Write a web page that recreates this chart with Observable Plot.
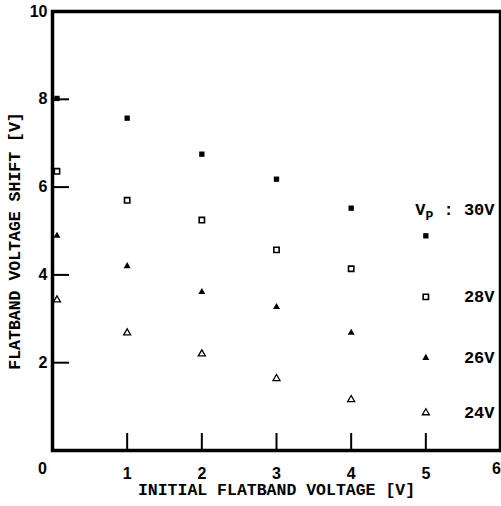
<!DOCTYPE html>
<html>
<head>
<meta charset="utf-8">
<script src="https://cdn.jsdelivr.net/npm/d3@7"></script>
<script src="https://cdn.jsdelivr.net/npm/@observablehq/plot@0.6"></script>
<style>
  html, body { margin: 0; padding: 0; background: #fff; }
</style>
</head>
<body>
<div id="chart"></div>
<script>
// Initial flatband voltage (x) for each measured column
const initialVfb = [0.06, 1, 2, 3, 4, 5];
// Flatband voltage shift [V] for each programming voltage Vp
const shift30 = [8.02, 7.57, 6.75, 6.18, 5.52, 4.89];
const shift28 = [6.36, 5.70, 5.25, 4.57, 4.14, 3.50];
const shift26 = [4.89, 4.20, 3.61, 3.27, 2.68, 2.11];
const shift24 = [3.43, 2.68, 2.20, 1.64, 1.16, 0.86];
const seriesLabels = ["Vp : 30V", "28V", "26V", "24V"];
const xTicks = [0, 1, 2, 3, 4, 5, 6];
const yTicks = [2, 4, 6, 8, 10];
const xTitle = "INITIAL FLATBAND VOLTAGE [V]";
const yTitle = "FLATBAND VOLTAGE SHIFT [V]";

const mk = (ys) => ys.map((y, i) => ({x: initialVfb[i], y}));
const s30 = mk(shift30), s28 = mk(shift28), s26 = mk(shift26), s24 = mk(shift24);
const lastPts = [s30, s28, s26, s24].map((s, i) => ({...s[s.length - 1], label: seriesLabels[i]}));

const mono = "'Liberation Mono', 'Courier New', monospace";

const chart = Plot.plot({
  width: 501,
  height: 506,
  marginLeft: 52,
  marginRight: 1,
  marginTop: 11,
  marginBottom: 56,
  style: {fontFamily: "'Liberation Sans', Arial, sans-serif", fontSize: "16px", fontWeight: "bold", color: "#000", background: "#fff"},
  x: {domain: [0, 6]},
  y: {domain: [0, 10]},
  marks: [
    Plot.frame({stroke: "#000", strokeWidth: 3.5}),
    Plot.tickY(yTicks.filter(d => d < 10), {y: d => d, insetRight: 431, stroke: "#000", strokeWidth: 2}),
    Plot.tickX(xTicks.filter(d => d > 0 && d < 6), {x: d => d, insetTop: 422, stroke: "#000", strokeWidth: 2}),
    Plot.axisY(yTicks, {tickSize: 0, tickPadding: 5, label: null}),
    Plot.axisX(xTicks.filter(d => d > 0 && d < 6), {tickSize: 0, tickPadding: 17, label: null}),
    Plot.text(xTicks.filter(d => d === 0), {x: d => d, frameAnchor: "bottom", dy: 23, dx: -10, text: d => String(d), fontSize: 16, fontWeight: "bold"}),
    Plot.text(xTicks.filter(d => d === 6), {x: d => d, frameAnchor: "bottom", dy: 23, dx: -4, text: d => String(d), fontSize: 16, fontWeight: "bold"}),
    Plot.text([xTitle], {frameAnchor: "bottom", dy: 44, text: d => d, fontFamily: mono, fontSize: 16.5, fontWeight: "bold"}),
    Plot.text([yTitle], {frameAnchor: "left", textAnchor: "middle", dx: -38, dy: 10, rotate: -90, text: d => d, fontFamily: mono, fontSize: 16.5, fontWeight: "bold"}),
    Plot.dot(s30, {x: "x", y: "y", symbol: "square", r: 3, fill: "#000"}),
    Plot.dot(s28, {x: "x", y: "y", symbol: "square", r: 3, fill: "#fff", stroke: "#000", strokeWidth: 1.6}),
    Plot.dot(s26, {x: "x", y: "y", symbol: "triangle", r: 2.6, fill: "#000"}),
    Plot.dot(s24, {x: "x", y: "y", symbol: "triangle", r: 2.6, fill: "#fff", stroke: "#000", strokeWidth: 1.3}),
    Plot.text(lastPts, {y: "y", frameAnchor: "right", dx: -6, text: "label", textAnchor: "end", fontFamily: mono, fontSize: 17, fontWeight: "bold"})
  ]
});

document.getElementById("chart").appendChild(chart);

// Post-process: raise the 30V label above its point and make the P a subscript
d3.select(chart).selectAll("text").each(function() {
  const t = d3.select(this);
  if (t.text() === seriesLabels[0]) {
    const tr = t.attr("transform") || "";
    t.attr("transform", tr + " translate(0,-26)");
    t.text(null);
    t.append("tspan").text("V");
    t.append("tspan").attr("dy", 5).attr("font-size", 13).text("P");
    t.append("tspan").attr("dy", -5).text(" : 30V");
  }
});
</script>
</body>
</html>
